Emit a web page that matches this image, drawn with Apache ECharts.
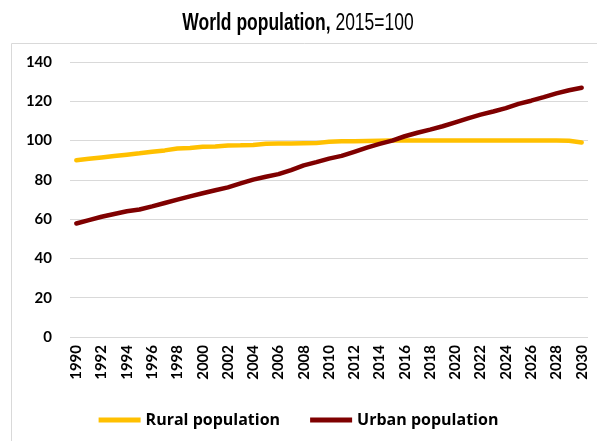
<!DOCTYPE html>
<html>
<head>
<meta charset="utf-8">
<script src="https://cdn.jsdelivr.net/npm/echarts@6/dist/echarts.min.js"></script>
<style>
  html, body { margin: 0; padding: 0; background: #fff; }
  #chart { width: 597px; height: 441px; }
</style>
</head>
<body>
<div id="chart"></div>
<script>
// years 1990..2030
var years = ['1990', '1991', '1992', '1993', '1994', '1995', '1996', '1997', '1998', '1999',
  '2000', '2001', '2002', '2003', '2004', '2005', '2006', '2007', '2008', '2009',
  '2010', '2011', '2012', '2013', '2014', '2015', '2016', '2017', '2018', '2019',
  '2020', '2021', '2022', '2023', '2024', '2025', '2026', '2027', '2028', '2029', '2030']

var rural = [90.0, 90.7, 91.4, 92.1, 92.8, 93.5, 94.3, 95.0, 96.0, 96.2,
  96.8, 97.0, 97.5, 97.6, 97.8, 98.4, 98.5, 98.5, 98.6, 98.7,
  99.4, 99.6, 99.7, 99.8, 99.9, 100, 100, 100, 100, 100,
  100, 100, 100, 100, 100, 100, 100, 100, 100, 99.9, 99.0]

var urban = [57.8, 59.5, 61.2, 62.6, 64.0, 64.9, 66.5, 68.2, 69.9, 71.6,
  73.2, 74.7, 76.2, 78.2, 80.1, 81.6, 82.9, 85.0, 87.4, 89.0,
  90.8, 92.2, 94.3, 96.4, 98.3, 100, 102.2, 104.0, 105.6, 107.3,
  109.3, 111.3, 113.2, 114.8, 116.5, 118.7, 120.3, 122.1, 124.0, 125.6, 126.9]

var yTicks = [0, 20, 40, 60, 80, 100, 120, 140]

var myChart = echarts.init(document.getElementById('chart'))
var labelFont = 'Lato, "Open Sans", sans-serif'
var titleFont = '"Liberation Sans", Arial, sans-serif'

var option = {
  animation: false,
  graphic: [
    {
      type: 'rect',
      shape: { x: 11.5, y: 43.5, width: 600, height: 420 },
      style: { fill: 'none', stroke: '#d9d9d9', lineWidth: 1 },
      z: -1
    },
    // title, squeezed to look like a narrow font
    {
      type: 'text',
      x: 298,
      y: 24,
      scaleX: 0.76,
      style: {
        text: '{b|World population,}{n| 2015=100}',
        align: 'center',
        verticalAlign: 'middle',
        rich: {
          b: { fontFamily: titleFont, fontWeight: 'bold', fontSize: 23, fill: '#000' },
          n: { fontFamily: titleFont, fontWeight: 'normal', fontSize: 23, fill: '#000' }
        }
      }
    }
  ],
  legend: {
    top: 407,
    left: 'center',
    icon: 'rect',
    itemWidth: 42,
    itemHeight: 5,
    itemGap: 30,
    textStyle: { fontFamily: '"Open Sans", sans-serif', fontWeight: 'bold', fontSize: 16, color: '#000' },
    data: ['Rural population', 'Urban population']
  },
  grid: {
    left: 70,
    right: 9,
    top: 62,
    bottom: 104
  },
  xAxis: {
    type: 'category',
    boundaryGap: true,
    data: years,
    axisLine: { show: false },
    axisTick: { show: false },
    axisLabel: {
      interval: 1,
      rotate: 90,
      margin: 8,
      fontFamily: labelFont,
      fontWeight: 'bold',
      fontSize: 15,
      color: '#000'
    }
  },
  yAxis: {
    type: 'value',
    min: yTicks[0],
    max: yTicks[yTicks.length - 1],
    interval: 20,
    axisLine: { show: false },
    axisTick: { show: false },
    splitLine: { lineStyle: { color: '#d9d9d9', width: 1 } },
    axisLabel: {
      margin: 18,
      fontFamily: labelFont,
      fontWeight: 'bold',
      fontSize: 15,
      color: '#000'
    }
  },
  series: [
    {
      name: 'Rural population',
      type: 'line',
      data: rural,
      showSymbol: false,
      symbol: 'none',
      itemStyle: { color: '#ffc000' },
      lineStyle: { color: '#ffc000', width: 4.5, cap: 'round' }
    },
    {
      name: 'Urban population',
      type: 'line',
      data: urban,
      showSymbol: false,
      symbol: 'none',
      itemStyle: { color: '#7f0000' },
      lineStyle: { color: '#7f0000', width: 4.5, cap: 'round' }
    }
  ]
}
myChart.setOption(option)
</script>
</body>
</html>
